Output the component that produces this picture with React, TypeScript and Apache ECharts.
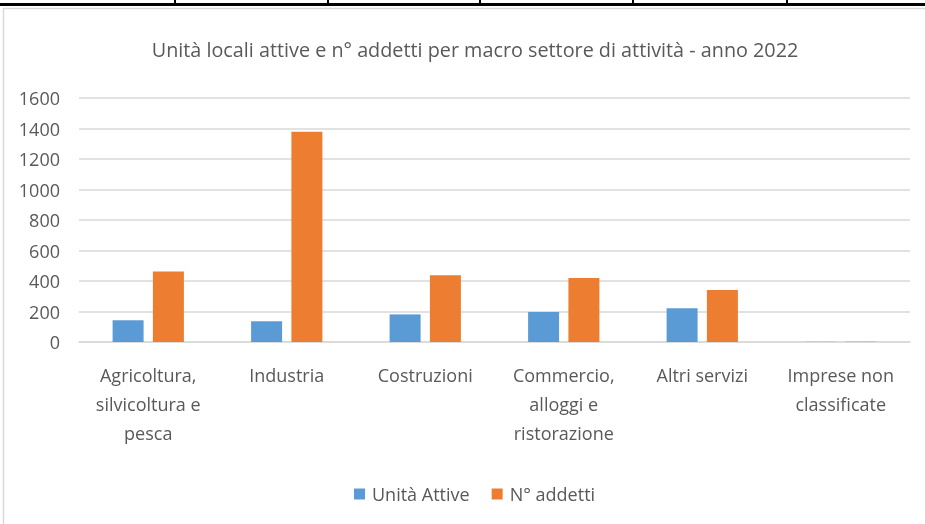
import React, { useEffect, useRef } from "react";
import * as echarts from "echarts";

const categories = [
  "Agricoltura,\nsilvicoltura e\npesca",
  "Industria",
  "Costruzioni",
  "Commercio,\nalloggi e\nristorazione",
  "Altri servizi",
  "Imprese non\nclassificate",
];
const unitaAttive = [142, 136, 181, 197, 221, 1];
const addetti = [463, 1378, 437, 420, 341, 2];
const seriesNames = ["Unità Attive", "N° addetti"];
const titleText = "Unità locali attive e n° addetti per macro settore di attività - anno 2022";
const separatorsX = [174, 327, 479, 632, 786];

const FONT = "'Open Sans', 'Noto Sans', sans-serif";
const GRAY = "#595959";

export default function App() {
  const ref = useRef<HTMLDivElement>(null);
  useEffect(() => {
    if (!ref.current) return;
    const chart = echarts.init(ref.current, undefined, { renderer: "svg" });
    const graphics: any[] = [
      {
        type: "rect",
        shape: { x: 3.5, y: 8.5, width: 930, height: 530 },
        style: { fill: "#fff", stroke: "#d9d9d9", lineWidth: 1.5 },
        z: -10,
      },
      {
        type: "rect",
        shape: { x: 0, y: 3, width: 925, height: 3 },
        style: { fill: "#000" },
      },
      ...separatorsX.map((x) => ({
        type: "rect",
        shape: { x: x, y: 0, width: 2, height: 4 },
        style: { fill: "#000" },
      })),
    ];
    chart.setOption({
      animation: false,
      textStyle: { fontFamily: FONT },
      title: {
        text: titleText,
        left: 470,
        top: 34,
        textAlign: "center",
        textStyle: { fontFamily: FONT, fontSize: 19.8, fontWeight: "normal", color: GRAY },
      },
      graphic: graphics,
      grid: { left: 79, right: 15, top: 98, bottom: 182 },
      legend: {
        data: seriesNames,
        top: 480,
        left: 349,
        itemWidth: 11,
        itemHeight: 11,
        itemGap: 22,
        icon: "rect",
        textStyle: { fontFamily: FONT, fontSize: 18, color: GRAY, padding: [0, 0, 0, 2] },
      },
      xAxis: {
        type: "category",
        data: categories,
        axisLine: { lineStyle: { color: "#d9d9d9", width: 1.5 } },
        axisTick: { show: false },
        axisLabel: {
          fontFamily: FONT,
          fontSize: 18,
          color: GRAY,
          lineHeight: 29,
          margin: 18,
          interval: 0,
        },
      },
      yAxis: {
        type: "value",
        min: 0,
        max: 1600,
        interval: 200,
        axisLine: { show: false },
        axisTick: { show: false },
        splitLine: { lineStyle: { color: "#d9d9d9", width: 1.5 } },
        axisLabel: {
          fontFamily: FONT,
          fontSize: 18,
          color: GRAY,
          margin: 19,
          formatter: (v: number) => String(v),
        },
      },
      series: [
        {
          name: seriesNames[0],
          type: "bar",
          data: unitaAttive,
          barWidth: 31,
          barGap: "30%",
          itemStyle: { color: "#5b9bd5" },
        },
        {
          name: seriesNames[1],
          type: "bar",
          data: addetti,
          barWidth: 31,
          itemStyle: { color: "#ed7d31" },
        },
      ],
    });
    return () => chart.dispose();
  }, []);
  return (
    <div
      ref={ref}
      style={{ position: "fixed", left: 0, top: 0, width: 925, height: 524 }}
    />
  );
}
